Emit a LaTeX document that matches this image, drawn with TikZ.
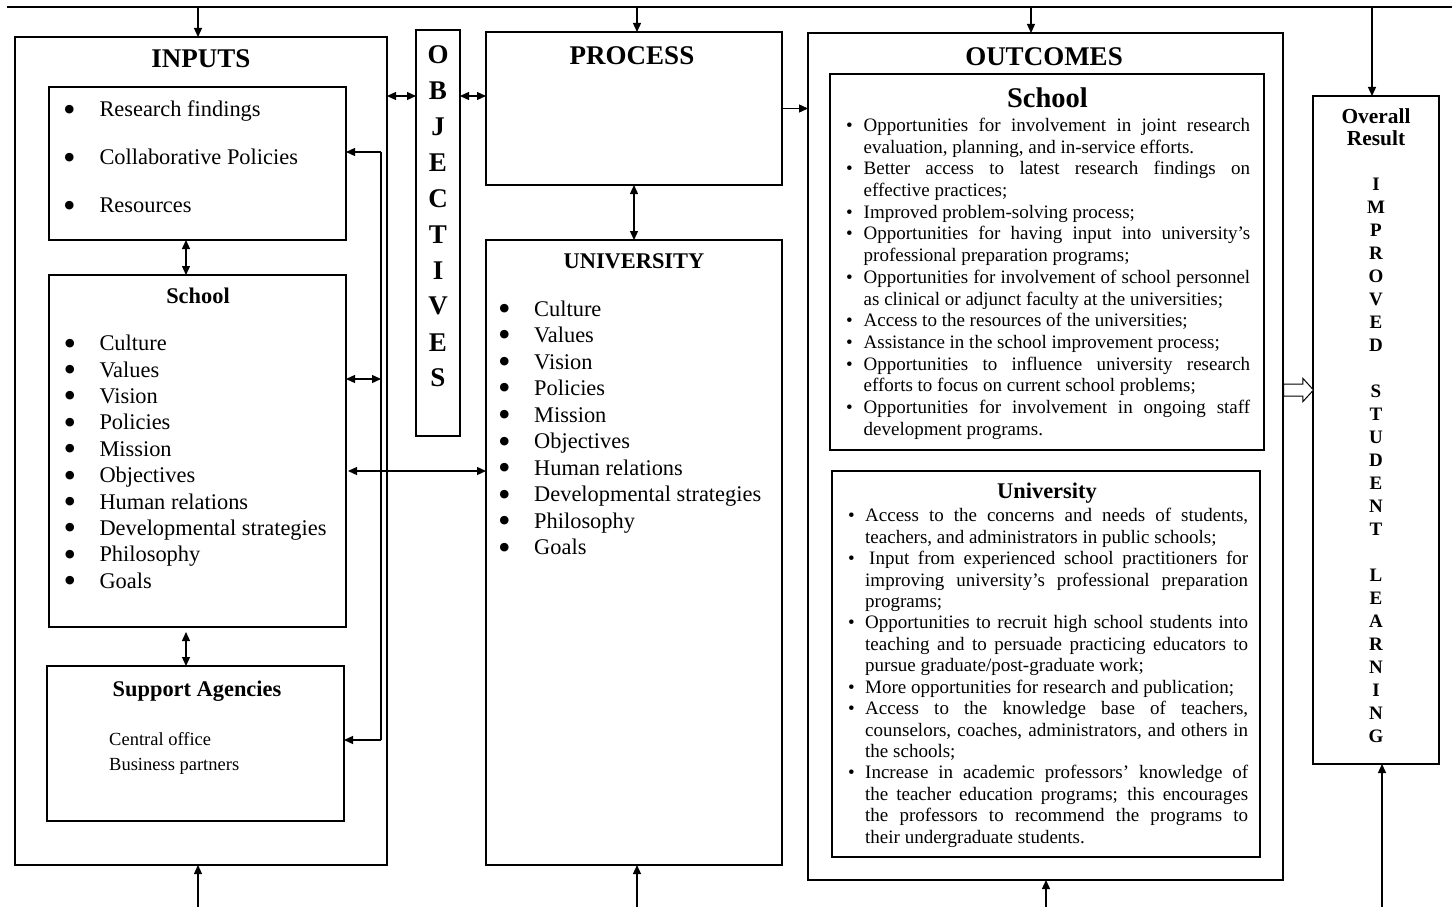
\documentclass[tikz,border=0pt]{standalone}
\usepackage{fontspec}
\setmainfont{Liberation Serif}
\usetikzlibrary{arrows.meta,shapes.arrows}
\newlength\bulhang
\newcommand\fb[1]{\par\hbox to\hsize{\hbox to\bulhang{\textbullet\hss}#1}}
\newcommand\fbn[1]{\par\hbox to\hsize{\hbox to\bulhang{\textbullet\hss}#1\hfil}}
\newcommand\cj[1]{\par\hbox to\hsize{\hskip\bulhang\relax #1}}
\newcommand\cn[1]{\par\hbox to\hsize{\hskip\bulhang\relax #1\hfil}}
\newcommand\bigbul{\smash{\raisebox{-4.3pt}{\scalebox{1.6}{\textbullet}}}}
\begin{document}
\begin{tikzpicture}[x=1pt,y=-1pt,
  box/.style={draw,line width=1.3pt,inner sep=0pt,outer sep=0pt,anchor=north west},
  ln/.style={line width=1.3pt},
  arr/.style={line width=1.3pt,-{Triangle[length=9pt,width=8pt]}},
  darr/.style={line width=1.3pt,{Triangle[length=9pt,width=8pt]}-{Triangle[length=9pt,width=8pt]}},
  ttl/.style={font=\fontsize{27}{30}\selectfont\bfseries,inner sep=0pt,anchor=base},
  objl/.style={font=\fontsize{27}{30}\selectfont\bfseries,inner sep=0pt,anchor=center},
  sub/.style={font=\fontsize{22.4}{26}\selectfont\bfseries,inner sep=0pt,anchor=base},
  itm/.style={font=\fontsize{22.4}{26}\selectfont,inner sep=0pt,anchor=base west},
  sml/.style={font=\fontsize{18.5}{24}\selectfont,inner sep=0pt,anchor=base west},
  osch/.style={font=\fontsize{28.5}{32}\selectfont\bfseries,inner sep=0pt,anchor=base},
  ov/.style={font=\fontsize{21.4}{24}\selectfont\bfseries,inner sep=0pt,anchor=base},
  ovl/.style={font=\fontsize{19}{22}\selectfont\bfseries,inner sep=0pt,anchor=center},
  otext/.style={inner sep=0pt,anchor=base west}
]
\useasboundingbox (0,0) rectangle (1452,907);

% boxes
\node[box,minimum width=372,minimum height=828] (inputs) at (15,37) {};
\node[box,minimum width=297,minimum height=153] (research) at (49,87) {};
\node[box,minimum width=297,minimum height=352] (school) at (49,275) {};
\node[box,minimum width=297,minimum height=155] (support) at (47,666) {};
\node[box,minimum width=44,minimum height=406] (obj) at (416,30) {};
\node[box,minimum width=296,minimum height=153] (process) at (486,32) {};
\node[box,minimum width=296,minimum height=625] (univ) at (486,240) {};
\node[box,minimum width=475,minimum height=847] (outcomes) at (808,33) {};
\node[box,minimum width=434,minimum height=376] (oschool) at (830,74) {};
\node[box,minimum width=428,minimum height=386] (ouniv) at (832,471) {};
\node[box,minimum width=126,minimum height=668] (overall) at (1313,96) {};

% titles
\node[ttl] (tin) at (201,67) {INPUTS};
\node[ttl] (tpr) at (632,65) {PROCESS};
\node[ttl] (tout) at (1044,66) {OUTCOMES};

% objectives letters
\foreach \l [count=\i from 0] in {O,B,J,E,C,T,I,V,E,S}
  \node[objl] (ob\i) at (438,55+35.9*\i) {\l};

% research list
\node[itm] (r1) at (63,116.7) {\makebox[36.3pt][l]{\bigbul}Research findings};
\node[itm] (r2) at (63,164.7) {\makebox[36.3pt][l]{\bigbul}Collaborative Policies};
\node[itm] (r3) at (63,212.7) {\makebox[36.3pt][l]{\bigbul}Resources};

% school list
\node[sub] (tsch) at (198,303.3) {School};
\foreach \t [count=\i from 0] in {Culture,Values,Vision,Policies,Mission,Objectives,Human relations,Developmental strategies,Philosophy,Goals}
  \node[itm] (s\i) at (63.5,350.7+26.4*\i) {\makebox[35.8pt][l]{\bigbul}\t};

% university list
\node[sub] (tuni) at (634,268.3) {UNIVERSITY};
\foreach \t [count=\i from 0] in {Culture,Values,Vision,Policies,Mission,Objectives,Human relations,Developmental strategies,Philosophy,Goals}
  \node[itm] (u\i) at (498,316+26.55*\i) {\makebox[36pt][l]{\bigbul}\t};

% support agencies
\node[sub] (tsup) at (197,696) {Support Agencies};
\node[sml] (c1) at (109,745.7) {Central office};
\node[sml] (c2) at (109,770) {Business partners};

% outcomes: school
\node[osch] (tosch) at (1047.5,107) {School};
\node[otext] (oslist) at (846,131.5) {\vtop{\hsize=404pt\setlength\bulhang{17.5pt}\fontsize{19}{21.7}\selectfont
\fb{Opportunities for involvement in joint research}
\cn{evaluation, planning, and in-service efforts.}
\fb{Better access to latest research findings on}
\cn{effective practices;}
\fbn{Improved problem-solving process;}
\fb{Opportunities for having input into university’s}
\cn{professional preparation programs;}
\fb{Opportunities for involvement of school personnel}
\cn{as clinical or adjunct faculty at the universities;}
\fbn{Access to the resources of the universities;}
\fbn{Assistance in the school improvement process;}
\fb{Opportunities to influence university research}
\cn{efforts to focus on current school problems;}
\fb{Opportunities for involvement in ongoing staff}
\cn{development programs.}}};

% outcomes: university
\node[sub] (touni) at (1047,498.3) {University};
\node[otext] (oulist) at (848,521.7) {\vtop{\hsize=400pt\setlength\bulhang{17pt}\fontsize{19}{21.44}\selectfont
\fb{Access to the concerns and needs of students,}
\cn{teachers, and administrators in public schools;}
\fb{\hspace{4pt}Input from experienced school practitioners for}
\cj{improving university’s professional preparation}
\cn{programs;}
\fb{Opportunities to recruit high school students into}
\cj{teaching and to persuade practicing educators to}
\cn{pursue graduate/post-graduate work;}
\fbn{More opportunities for research and publication;}
\fb{Access to the knowledge base of teachers,}
\cj{counselors, coaches, administrators, and others in}
\cn{the schools;}
\fb{Increase in academic professors’ knowledge of}
\cj{the teacher education programs; this encourages}
\cj{the professors to recommend the programs to}
\cn{their undergraduate students.}}};

% overall result
\node[ov] (tov1) at (1376,123) {Overall};
\node[ov] (tov2) at (1376,146) {Result};
\foreach \l/\k in {I/0,M/1,P/2,R/3,O/4,V/5,E/6,D/7,S/9,T/10,U/11,D/12,E/13,N/14,T/15,L/17,E/18,A/19,R/20,N/21,I/22,N/23,G/24}
  \node[ovl] (ov\k) at (1376,184+23*\k) {\l};

% top line and arrows
\coordinate (tL) at (7,7);
\coordinate (tR) at (1452,7);
\coordinate (bt) at (0,907);
\draw[ln] (tL) -- (tR);
\coordinate (xin) at (198,0);
\coordinate (xpr) at (637,0);
\coordinate (xot) at (1031,0);
\coordinate (xob) at (1046,0);
\coordinate (xvt) at (1372,0);
\coordinate (xvb) at (1382,0);
\draw[arr] (xin |- tL) -- (xin |- inputs.north);
\draw[arr] (xpr |- tL) -- (xpr |- process.north);
\draw[arr] (xot |- tL) -- (xot |- outcomes.north);
\draw[arr] (xvt |- tL) -- (xvt |- overall.north);
\draw[arr] (xin |- bt) -- (xin |- inputs.south);
\draw[arr] (xpr |- bt) -- (xpr |- univ.south);
\draw[arr] (xob |- bt) -- (xob |- outcomes.south);
\draw[arr] (xvb |- bt) -- (xvb |- overall.south);

% inputs internal connectors
\coordinate (xv) at (186,0);
\draw[darr] (xv |- research.south) -- (xv |- school.north);
\draw[darr] ([yshift=-5pt]xv |- school.south) -- (xv |- support.north);
\coordinate (va) at (381,152);
\coordinate (vb) at (381,740);
\coordinate (vc) at (381,379);
\draw[ln] (va) -- (vb);
\draw[arr] (va) -- (va -| research.east);
\draw[arr] (vb) -- (vb -| support.east);
\draw[darr] (vc -| school.east) -- (vc);
\coordinate (hl) at (0,471);
\draw[darr] ([xshift=2pt]hl -| school.east) -- (hl -| univ.west);

% objectives connectors
\coordinate (oy) at (0,96);
\draw[darr] (oy -| inputs.east) -- (oy -| obj.west);
\draw[darr] (oy -| obj.east) -- (oy -| process.west);
\draw[arr] (process.east) -- (process.east -| outcomes.west);
\draw[darr] (process.south) -- (univ.north);

% hollow arrow
\coordinate (hy) at (0,390);
\node[single arrow,draw,line width=1pt,fill=white,inner sep=5.5pt,
  single arrow head extend=5.5pt,single arrow tip angle=95,
  minimum height=30pt,anchor=tail] (hollow) at (hy -| outcomes.east) {};
\end{tikzpicture}
\end{document}
